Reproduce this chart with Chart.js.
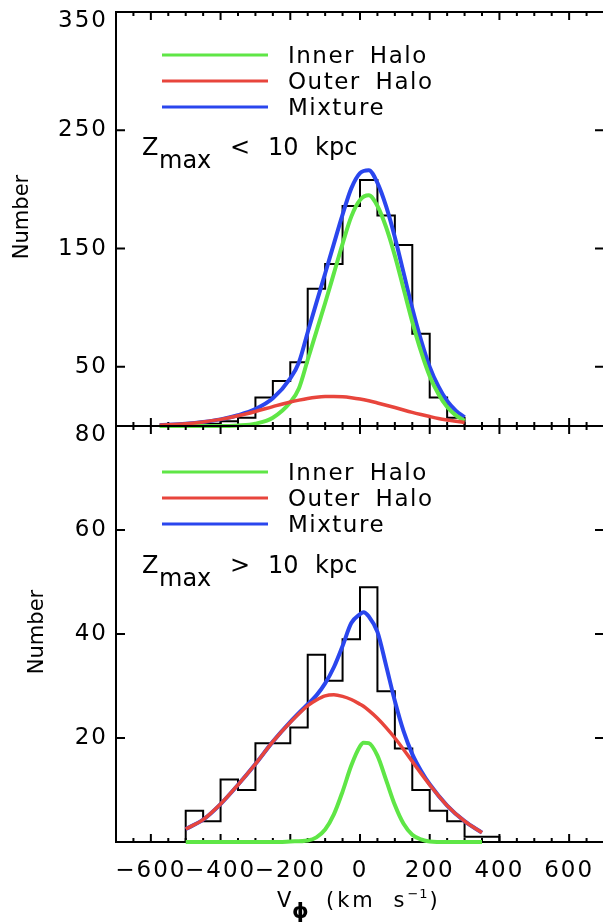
<!DOCTYPE html>
<html>
<head>
<meta charset="utf-8">
<script src="https://cdn.jsdelivr.net/npm/chart.js@4.4.1/dist/chart.umd.min.js"></script>
<style>
  html, body { margin: 0; padding: 0; background: #fff; overflow: hidden; }
  #wrap { position: relative; width: 603px; height: 924px; overflow: hidden; }
  canvas { position: absolute; left: 0; }
  #zLow { top: 0; }
  #zHigh { top: 400px; }
</style>
</head>
<body>
<div id="wrap">
  <canvas id="zLow" width="606" height="430"></canvas>
  <canvas id="zHigh" width="606" height="524"></canvas>
</div>
<script>
// ---- V_phi distributions (50 km/s bins, left edges) ----
const BIN = 50;
const lowEdges  = [-550, -500, -450, -400, -350, -300, -250, -200, -150, -100, -50, 0, 50, 100, 150, 200, 250];
const lowCounts = [1, 1, 2, 4, 7, 24, 38, 54, 116, 137, 186, 208, 178, 153, 78, 24, 7];

const highEdges  = [-500, -450, -400, -350, -300, -250, -200, -150, -100, -50, 0, 50, 100, 150, 200, 250, 300, 350];
const highCounts = [6, 4, 12, 10, 19, 19, 22, 36, 31, 39, 49, 29, 18, 10, 6, 4, 1, 1];

// ---- fitted components, Z_max < 10 kpc ----
const lowCurveV  = [-575, -550, -500, -450, -400, -350, -300, -250, -200, -175, -150, -125, -100, -75, -50, -25, 0, 25, 50, 75, 100, 125, 150, 175, 200, 225, 250, 275, 300];
const lowInner   = [0, 0, 0, 0, 0, 0.5, 2, 7, 20, 32, 56, 80, 104, 129, 154, 177, 191, 195, 186, 168, 144, 116, 88, 63, 42, 27, 16, 9, 4.5];
const lowOuter   = [0.7, 1.0, 1.9, 3.4, 5.6, 8.6, 12.3, 16.4, 20.3, 21.9, 23.3, 24.3, 24.9, 25, 24.7, 23.9, 22.8, 21.3, 19.5, 17.6, 15.6, 13.5, 11.5, 9.7, 8.0, 6.4, 5.1, 4.0, 3.0];
const lowMixture = [0.7, 1.0, 1.9, 3.4, 5.6, 9.1, 14.3, 23.4, 40.3, 53.9, 79.3, 104.3, 128.9, 154, 178.7, 200.9, 213.8, 216.3, 205.5, 185.6, 159.6, 129.5, 99.5, 72.7, 50, 33.4, 21.1, 13, 7.5];

// ---- fitted components, Z_max > 10 kpc ----
const highCurveV  = [-500, -450, -400, -350, -300, -250, -200, -150, -125, -100, -75, -50, -25, 0, 10, 25, 50, 75, 100, 125, 150, 175, 200, 250, 300, 350];
const highInner   = [0, 0, 0, 0, 0, 0, 0.1, 0.3, 0.9, 2.4, 5.3, 9.7, 14.7, 18.4, 19.1, 19.0, 16.6, 11.9, 7.1, 3.5, 1.4, 0.5, 0.1, 0, 0, 0];
const highOuter   = [2.5, 4.3, 7.3, 11, 15, 19.3, 23, 26.2, 27.3, 28.1, 28.3, 28, 27.4, 26.5, 26.1, 25.3, 23.8, 22, 20, 17.8, 15.5, 13.2, 11, 7, 4, 1.8];
const highMixture = [2.5, 4.3, 7.3, 11, 15, 19.3, 23.1, 26.5, 28.2, 30.5, 33.6, 37.7, 42.1, 43.8, 44.2, 43.4, 40.4, 33.9, 27.1, 21.3, 16.9, 13.7, 11.1, 7, 4, 1.8];

// ---- axis labels ----
const vLabelTicks = [-600, -400, -200, 0, 200, 400, 600];
const lowYTicks  = [50, 150, 250, 350];
const highYTicks = [20, 40, 60, 80];

const GREEN = '#5fe646', RED = '#e8453c', BLUE = '#2a46ee';
const FONT = 'DejaVu Sans';

const xy = (xs, ys) => xs.map((v, i) => ({ x: v, y: ys[i] }));

// outline of a histogram: up from zero at the first edge, down to zero after the last bin
function histPoints(edges, counts) {
  const pts = [{ x: edges[0], y: 0 }];
  edges.forEach((e, i) => pts.push({ x: e, y: counts[i] }));
  pts.push({ x: edges[edges.length - 1] + BIN, y: 0 });
  return pts;
}

function put(ctx, str, x, y, size, o = {}) {
  ctx.font = (o.bold ? 'bold ' : '') + size + 'px "' + FONT + '"';
  ctx.letterSpacing = o.ls || '0px';
  ctx.wordSpacing = o.ws || '0px';
  ctx.fillText(str, x, y);
  return ctx.measureText(str).width;
}

// box with inward ticks on all four sides
const frameTicks = (p) => ({
  id: 'frameTicks',
  beforeDraw(chart) { chart.ctx.letterSpacing = '2px'; },
  beforeDatasetsDraw(chart) {
    const { ctx, chartArea: a, scales: { x, y } } = chart;
    ctx.save();
    ctx.strokeStyle = '#000';
    ctx.lineWidth = 2;
    ctx.strokeRect(a.left, a.top, a.width, a.height);
    ctx.beginPath();
    for (let v = -650; v <= 650; v += 50) {
      const px = x.getPixelForValue(v);
      const len = v % 200 === 0 ? 8 : 4;
      ctx.moveTo(px, a.top); ctx.lineTo(px, a.top + len);
      ctx.moveTo(px, a.bottom); ctx.lineTo(px, a.bottom - len);
    }
    p.yTicks.slice(0, -1).forEach(v => {
      const py = y.getPixelForValue(v);
      ctx.moveTo(a.left, py); ctx.lineTo(a.left + 9, py);
      ctx.moveTo(a.right, py); ctx.lineTo(a.right - 9, py);
    });
    ctx.stroke();
    ctx.restore();
  }
});

// legend, Z_max note and axis titles
const panelText = (p) => ({
  id: 'panelText',
  afterDraw(chart) {
    const { ctx, chartArea: a, scales: { x } } = chart;
    ctx.save();
    ctx.fillStyle = '#000';
    ctx.textAlign = 'left';
    ctx.textBaseline = 'alphabetic';

    ['Inner Halo', 'Outer Halo', 'Mixture'].forEach((name, i) => {
      const ds = chart.data.datasets.find(d => d.label === name);
      const ly = a.top + p.legendTop + 26 * i;
      ctx.strokeStyle = ds.borderColor;
      ctx.lineWidth = 3;
      ctx.beginPath();
      ctx.moveTo(a.left + 46, ly);
      ctx.lineTo(a.left + 152, ly);
      ctx.stroke();
      put(ctx, name, a.left + 172, ly + 8, 23, { ls: '1.5px', ws: '6px' });
    });

    const zy = a.top + p.zTop;
    put(ctx, 'Z', a.left + 26, zy, 24);
    put(ctx, 'max', a.left + 43, zy + 13, 24);
    put(ctx, p.zRel, a.left + 114, zy, 24);
    put(ctx, '10', a.left + 152, zy, 24);
    put(ctx, 'kpc', a.left + 199, zy, 24);

    ctx.save();
    ctx.translate(p.titleX, (a.top + a.bottom) / 2 - 2);
    ctx.rotate(-Math.PI / 2);
    ctx.textAlign = 'center';
    ctx.textBaseline = 'middle';
    put(ctx, 'Number', 0, 0, 21);
    ctx.restore();

    if (p.xLabels) {
      const x0 = x.getPixelForValue(0);
      const by = a.bottom + 65;
      put(ctx, 'V', x0 - 83, by, 21);
      put(ctx, '\u03D5', x0 - 68, by + 11, 21, { bold: true });
      let cx = x0 - 34;
      cx += put(ctx, '(km s', cx, by, 21, { ls: '3px', ws: '8px' });
      cx += put(ctx, '\u22121', cx, by - 9, 13, { ls: '1px' });
      put(ctx, ')', cx + 1, by, 21);
    }
    ctx.restore();
  }
});

function makePanel(id, p) {
  const curve = (label, vs, ys, color, width, order) => ({
    label, data: xy(vs, ys), borderColor: color, borderWidth: width, order,
    cubicInterpolationMode: 'monotone', clip: 3
  });
  return new Chart(document.getElementById(id), {
    type: 'line',
    data: {
      datasets: [
        curve('Inner Halo', p.curveV, p.inner, GREEN, 4, 2),
        curve('Outer Halo', p.curveV, p.outer, RED, 3.5, 1),
        curve('Mixture', p.curveV, p.mixture, BLUE, 4, 3),
        { label: 'Stars', data: histPoints(p.edges, p.counts), borderColor: '#000', borderWidth: 2, stepped: 'before', tension: 0, order: 4 }
      ]
    },
    options: {
      responsive: false,
      animation: false,
      devicePixelRatio: 1,
      events: [],
      layout: { padding: p.padding },
      elements: { point: { radius: 0 }, line: { fill: false } },
      plugins: { legend: { display: false }, tooltip: { enabled: false } },
      scales: {
        x: {
          type: 'linear', min: -700, max: 700,
          grid: { display: false, drawTicks: false }, border: { display: false },
          afterBuildTicks: s => { s.ticks = vLabelTicks.map(value => ({ value })); },
          afterFit: s => { s.height = p.xAxisHeight; s.paddingLeft = 0; s.paddingRight = 0; },
          ticks: {
            display: p.xLabels, autoSkip: false, maxRotation: 0, minRotation: 0, padding: 15,
            color: '#000', font: { family: FONT, size: 23 },
            callback: v => String(v).replace('-', '\u2212')
          }
        },
        y: {
          min: 0, max: p.yMax,
          grid: { display: false, drawTicks: false }, border: { display: false },
          afterBuildTicks: s => { s.ticks = p.yTicks.map(value => ({ value })); },
          afterFit: s => { s.width = 116; s.paddingTop = 0; s.paddingBottom = 0; },
          ticks: {
            padding: 8, color: '#000', font: { family: FONT, size: 23, lineHeight: 0.8 },
            // the top label sits just below its tick, inside the frame
            callback: (v, i, ticks) => i === ticks.length - 1 ? ['', String(v)] : String(v)
          }
        }
      }
    },
    plugins: [frameTicks(p), panelText(p)]
  });
}

makePanel('zLow', {
  edges: lowEdges, counts: lowCounts,
  curveV: lowCurveV, inner: lowInner, outer: lowOuter, mixture: lowMixture,
  yMax: 350, yTicks: lowYTicks,
  padding: { top: 12, right: 2, bottom: 4, left: 0 }, xAxisHeight: 0, xLabels: false,
  legendTop: 43, zTop: 143, zRel: '<', titleX: 23
});

makePanel('zHigh', {
  edges: highEdges, counts: highCounts,
  curveV: highCurveV, inner: highInner, outer: highOuter, mixture: highMixture,
  yMax: 80, yTicks: highYTicks,
  padding: { top: 26, right: 2, bottom: 0, left: 0 }, xAxisHeight: 82, xLabels: true,
  legendTop: 46, zTop: 147, zRel: '>', titleX: 38
});
</script>
</body>
</html>
